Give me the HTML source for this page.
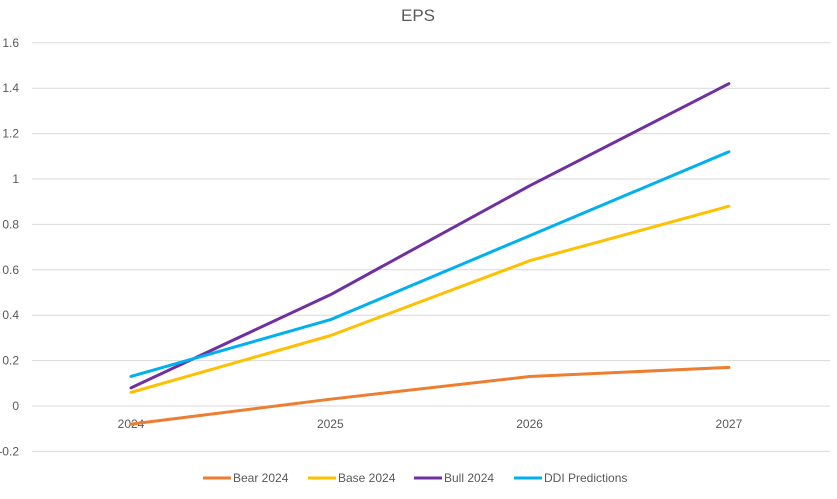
<!DOCTYPE html>
<html><head><meta charset="utf-8"><style>
body{margin:0;background:#fff;font-family:"Liberation Sans",sans-serif;}
svg text{font-family:"Liberation Sans",sans-serif;fill:#595959;}
</style></head><body>
<svg id="c" width="837" height="494">
<text x="418" y="21" font-size="17" text-anchor="middle">EPS</text>
<g id="grid"></g><g id="series"></g><g id="legend"></g>
</svg>
<script>
const categories=["2024","2025","2026","2027"];
const bear=[-0.08,0.03,0.13,0.17];
const base=[0.06,0.31,0.64,0.88];
const bull=[0.08,0.49,0.97,1.42];
const ddi=[0.13,0.38,0.75,1.12];
const yTicks=[-0.2,0,0.2,0.4,0.6,0.8,1,1.2,1.4,1.6];
const yTickLabels=["-0.2","0","0.2","0.4","0.6","0.8","1","1.2","1.4","1.6"];
const seriesNames=["Bear 2024","Base 2024","Bull 2024","DDI Predictions"];
const NS="http://www.w3.org/2000/svg";
const y=v=>406-v*227;
const x=i=>131+i*199.3;
function mk(t,a,p){const e=document.createElementNS(NS,t);for(const k in a)e.setAttribute(k,a[k]);p.appendChild(e);return e;}
const g=document.getElementById('grid');
yTicks.forEach((v,i)=>{
 const l=mk('line',{x1:32,x2:830,y1:y(v),y2:y(v),stroke:'#d9d9d9','stroke-width':1},g);
 
 
 const t=mk('text',{x:19,y:y(v)+4,'font-size':12,'text-anchor':'end'},g);
 t.textContent=yTickLabels[i];
 
 
});
categories.forEach((c,i)=>{
 const t=mk('text',{x:x(i),y:y(0)+22,'font-size':12,'text-anchor':'middle'},g);
 t.textContent=c;
 
 
});
const data=[bear,base,bull,ddi];
const colors=["#ED7D31","#FFC000","#7030A0","#00B0F0"];
const s=document.getElementById('series');
data.forEach((d,k)=>{
 const p=mk('polyline',{points:d.map((v,i)=>x(i)+','+y(v)).join(' '),fill:'none',stroke:colors[k],'stroke-width':3,'stroke-linejoin':'round','stroke-linecap':'round'},s);
 
 
});
const lg=document.getElementById('legend');
const lx=[203,308,414,514];
seriesNames.forEach((n,k)=>{
 const l=mk('line',{x1:lx[k],x2:lx[k]+28,y1:478,y2:478,stroke:colors[k],'stroke-width':3},lg);
 
 
 const t=mk('text',{x:lx[k]+30,y:482,'font-size':12},lg);
 t.textContent=n;
 
 
});
</script>
</body></html>
